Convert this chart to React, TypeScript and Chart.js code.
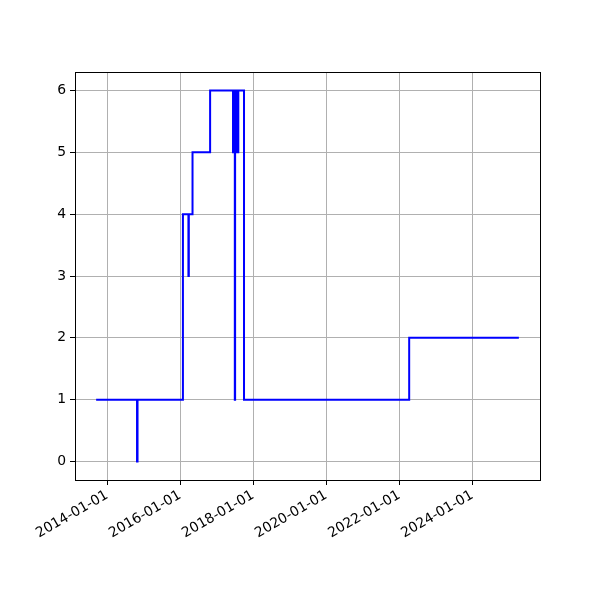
import React, { useEffect, useRef } from "react";
import { Chart, registerables } from "chart.js";

Chart.register(...registerables);

// Change-point dates and the value held from that date on (steps-post)
const dates: string[] = [
  "2013-09-13",
  "2014-10-27",
  "2014-11-01",
  "2016-01-29",
  "2016-03-24",
  "2016-03-28",
  "2016-05-04",
  "2016-10-27",
  "2017-06-13",
  "2017-06-15",
  "2017-06-17",
  "2017-06-19",
  "2017-06-21",
  "2017-06-23",
  "2017-06-25",
  "2017-06-27",
  "2017-06-29",
  "2017-07-01",
  "2017-07-04",
  "2017-07-06",
  "2017-07-08",
  "2017-07-10",
  "2017-07-12",
  "2017-07-14",
  "2017-07-16",
  "2017-07-18",
  "2017-07-20",
  "2017-07-22",
  "2017-07-24",
  "2017-07-26",
  "2017-07-28",
  "2017-07-30",
  "2017-08-01",
  "2017-08-03",
  "2017-08-05",
  "2017-10-01",
  "2022-04-10",
  "2025-04-11",
];
const values: number[] = [
  1, 0, 1, 4, 3, 4, 5, 6,
  5, 6, 5, 6, 5, 6, 5, 6, 5, 1, 6, 5, 6, 5, 6, 5, 6, 5, 6, 5, 6, 5, 6, 5, 6, 5, 6,
  1, 2, 2,
];

const xTickDates: string[] = [
  "2014-01-01",
  "2016-01-01",
  "2018-01-01",
  "2020-01-01",
  "2022-01-01",
  "2024-01-01",
];
const yTicks: number[] = [0, 1, 2, 3, 4, 5, 6];

const toDays = (s: string): number => {
  const [y, m, d] = s.split("-").map(Number);
  return Date.UTC(y, m - 1, d) / 86400000;
};

export default function App() {
  const ref = useRef<HTMLCanvasElement | null>(null);

  useEffect(() => {
    if (!ref.current) return;
    const pts = dates.map((d, i) => ({ x: toDays(d), y: values[i] }));
    const xs = pts.map((p) => p.x);
    const xMinD = Math.min(...xs);
    const xMaxD = Math.max(...xs);
    const xPad = (xMaxD - xMinD) * 0.05;
    const yMinD = Math.min(...values);
    const yMaxD = Math.max(...values);
    const yPad = (yMaxD - yMinD) * 0.05;

    const frame = {
      id: "frame",
      afterDatasetsDraw(chart: any) {
        const { ctx, chartArea } = chart;
        ctx.save();
        ctx.strokeStyle = "#000";
        ctx.lineWidth = 1;
        ctx.strokeRect(
          Math.round(chartArea.left) + 0.5,
          Math.round(chartArea.top) + 0.5,
          Math.round(chartArea.right - chartArea.left),
          Math.round(chartArea.bottom - chartArea.top)
        );
        ctx.restore();
      },
    };

    const font = { family: "DejaVu Sans", size: 13.9 };

    const chart = new Chart(ref.current, {
      type: "line",
      data: {
        datasets: [
          {
            data: pts,
            borderColor: "#0000ff",
            borderWidth: 2,
            pointRadius: 0,
            stepped: "before",
            fill: false,
          },
        ],
      },
      options: {
        animation: false,
        responsive: false,
        layout: { padding: { top: 72, right: 60, left: 0, bottom: 0 } },
        plugins: { legend: { display: false }, tooltip: { enabled: false } },
        scales: {
          x: {
            type: "linear",
            min: xMinD - xPad,
            max: xMaxD + xPad,
            afterBuildTicks: (scale: any) => {
              scale.ticks = xTickDates.map((d) => ({ value: toDays(d) }));
            },
            afterFit: (scale: any) => {
              scale.height = 120;
            },
            ticks: {
              autoSkip: false,
              maxRotation: 30,
              minRotation: 30,
              color: "#000",
              font,
              padding: 2,
              callback: (_v: any, i: number) => xTickDates[i],
            },
            grid: {
              color: "#b0b0b0",
              lineWidth: 1,
              tickColor: "#000",
              tickLength: 5,
              tickWidth: 1,
            },
            border: { display: false },
          },
          y: {
            type: "linear",
            min: yMinD - yPad,
            max: yMaxD + yPad,
            afterBuildTicks: (scale: any) => {
              scale.ticks = yTicks.map((v) => ({ value: v }));
            },
            afterFit: (scale: any) => {
              scale.width = 75;
            },
            ticks: {
              color: "#000",
              font,
              padding: 4,
              callback: (v: any) => String(v),
            },
            grid: {
              color: "#b0b0b0",
              lineWidth: 1,
              tickColor: "#000",
              tickLength: 5,
              tickWidth: 1,
            },
            border: { display: false },
          },
        },
      },
      plugins: [frame],
    });
    return () => chart.destroy();
  }, []);

  return (
    <div style={{ position: "fixed", left: 0, top: 0, width: 600, height: 600, background: "#fff" }}>
      <canvas ref={ref} width={600} height={600} style={{ width: 600, height: 600 }} />
    </div>
  );
}
